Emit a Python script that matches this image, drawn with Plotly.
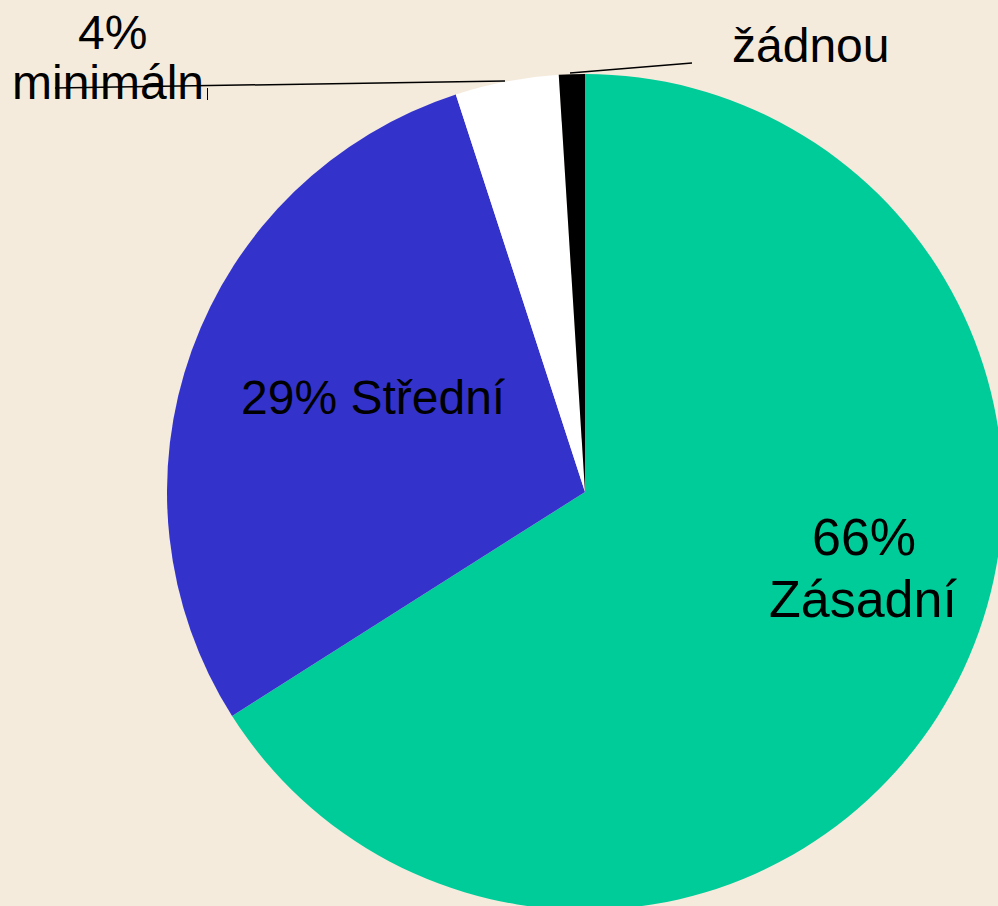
import plotly.graph_objects as go

# ---- data ----
categories = ["Zásadní", "Střední", "minimální", "žádnou"]
values = [66, 29, 4, 1]
colors = ["#00CC99", "#3333CC", "#FFFFFF", "#000000"]

# label texts (as shown on the chart)
label_66_pct = "66%"
label_66_name = "Zásadní"
label_29 = "29% Střední"
label_4_pct = "4%"
label_4_name = "minimáln"
label_1 = "žádnou"

W, H = 1006, 913
BG = "#F4EBDD"
FONT = "Liberation Sans, Arial, sans-serif"

fig = go.Figure()
fig.add_trace(go.Pie(
    labels=categories,
    values=values,
    marker=dict(colors=colors, line=dict(width=0)),
    sort=False,
    direction="clockwise",
    rotation=0,
    textinfo="none",
    hoverinfo="label+percent",
    showlegend=False,
    domain=dict(x=[167 / W, 1003 / W], y=[(H - 910) / H, (H - 74) / H]),
))

# invisible pixel-space axes for labels / leader lines
fig.update_xaxes(range=[0, W], visible=False, fixedrange=True)
fig.update_yaxes(range=[H, 0], visible=False, fixedrange=True)

def ann(text, x, y, size):
    fig.add_annotation(text=text, x=x, y=y, xref="x", yref="y", showarrow=False,
                       xanchor="center", yanchor="middle",
                       font=dict(family=FONT, size=size, color="#000000"))

ann(label_66_pct, 864, 537, 52)
ann(label_66_name, 863, 599, 52)
ann(label_29, 373, 397, 48)
ann(label_4_pct, 112, 32, 48)
ann(label_4_name, 108, 82, 48)
ann(label_1, 810, 45, 48)

# leader lines
fig.add_shape(type="line", x0=55, y0=88, x1=505, y1=81, xref="x", yref="y",
              line=dict(color="#000000", width=1.5))
fig.add_shape(type="line", x0=207.5, y0=88, x1=207.5, y1=100, xref="x", yref="y",
              line=dict(color="#000000", width=1))
fig.add_shape(type="line", x0=570, y0=73, x1=692, y1=63, xref="x", yref="y",
              line=dict(color="#000000", width=1.5))

fig.update_layout(
    width=W, height=H,
    margin=dict(l=0, r=0, t=0, b=0),
    paper_bgcolor=BG, plot_bgcolor="rgba(0,0,0,0)",
    showlegend=False,
)

fig.write_html(
    "out.html",
    config={"displayModeBar": False},
    post_script="document.body.style.margin='0';document.body.style.overflow='hidden';"
                "document.documentElement.style.overflow='hidden';"
                "document.body.style.background='" + BG + "';",
)
